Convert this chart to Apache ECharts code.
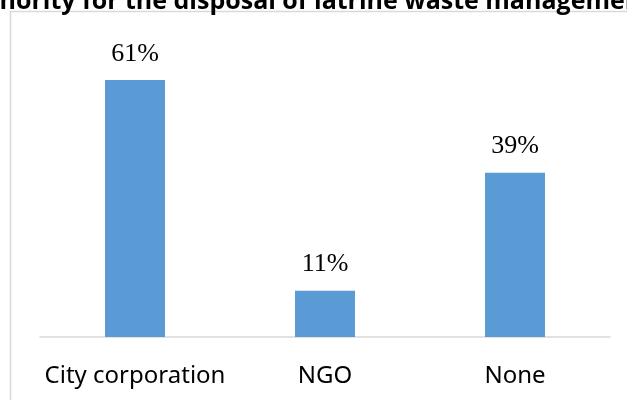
<!DOCTYPE html>
<html>
<head>
<meta charset="utf-8">
<script src="https://cdn.jsdelivr.net/npm/echarts@6/dist/echarts.min.js"></script>
<style>
  html, body { margin: 0; padding: 0; background: #ffffff; }
  #chart { width: 627px; height: 400px; }
</style>
</head>
<body>
<div id="chart"></div>
<script>
// Who handles the disposal of latrine waste (share of respondents, %)
const categories = ['City corporation', 'NGO', 'None'];
const shares = [61, 11, 39];
const chartTitle = 'Authority for the disposal of latrine waste management';

const chart = echarts.init(document.getElementById('chart'), null, { renderer: 'canvas' });

chart.setOption({
  backgroundColor: '#ffffff',
  animation: false,
  title: {
    text: chartTitle,
    left: -50,
    top: -16,
    textStyle: {
      fontFamily: '"Open Sans", "Noto Sans", sans-serif',
      fontWeight: 'bold',
      fontSize: 25,
      color: '#000000'
    }
  },
  graphic: [{
    type: 'rect',
    shape: { x: 10.5, y: 11.5, width: 640, height: 400 },
    style: { fill: 'none', stroke: '#d9d9d9', lineWidth: 1.5 },
    silent: true,
    z: -1
  }],
  grid: { left: 40, right: 17, top: 42, bottom: 63 },
  xAxis: {
    type: 'category',
    data: categories,
    axisLine: { show: true, lineStyle: { color: '#d9d9d9', width: 1.5 } },
    axisTick: { show: false },
    axisLabel: {
      interval: 0,
      margin: 27,
      fontFamily: '"Noto Sans", sans-serif',
      fontSize: 24,
      color: '#000000'
    }
  },
  yAxis: {
    type: 'value',
    min: 0,
    max: 70,
    show: false,
    splitLine: { show: false }
  },
  series: [{
    type: 'bar',
    data: shares,
    barWidth: 60,
    itemStyle: { color: '#5b9bd5' },
    label: {
      show: true,
      position: 'top',
      distance: 13,
      formatter: '{c}%',
      fontFamily: '"Liberation Serif", "Times New Roman", serif',
      fontSize: 26,
      color: '#000000'
    }
  }]
});
</script>
</body>
</html>
